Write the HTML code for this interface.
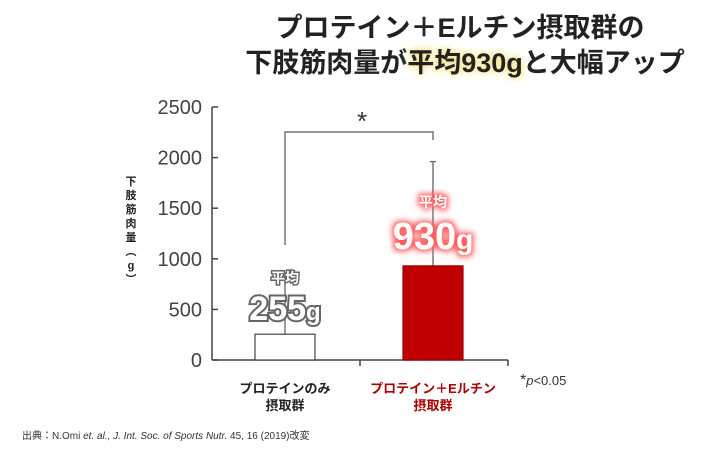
<!DOCTYPE html>
<html><head><meta charset="utf-8"><style>
body{margin:0;width:720px;height:450px;background:#fff;overflow:hidden;font-family:"Liberation Sans","Noto Sans CJK JP",sans-serif;}
.t{position:absolute;left:0;width:930px;text-align:center;font-weight:bold;font-size:27px;color:#222;white-space:nowrap;}
.hl{text-shadow:0 0 6px #f5e27a,0 0 10px #f8e99a;}
</style></head><body>
<div class="t" style="top:6px;left:-5px;">プロテイン＋Eルチン摂取群の</div>
<div class="t" style="top:41px;">下肢筋肉量が<span class="hl">平均930g</span>と大幅アップ</div>
<svg id="chart" width="720" height="450" style="position:absolute;left:0;top:0">
<defs>
<filter id="rg" x="-30%" y="-30%" width="160%" height="160%"><feMorphology operator="dilate" radius="2" in="SourceAlpha" result="d"/><feGaussianBlur in="d" stdDeviation="3" result="b"/><feFlood flood-color="#ff5a5a"/><feComposite in2="b" operator="in" result="g"/><feMerge><feMergeNode in="g"/><feMergeNode in="SourceGraphic"/></feMerge></filter>
</defs>
</svg>
<div style="position:absolute;left:124px;top:175px;width:14px;font-size:11px;font-weight:bold;line-height:14px;text-align:center;color:#222;">下<br>肢<br>筋<br>肉<br>量<br>︵<br>g<br>︶</div>
<div style="position:absolute;left:22px;top:427px;font-size:10px;color:#333;">出典：N.Omi <i>et. al., J. Int. Soc. of Sports Nutr.</i> 45, 16 (2019)改変</div>
<script>
const categories=["プロテインのみ|摂取群","プロテイン＋Eルチン|摂取群"];
const means=[255,930];
const errTops=[820,1960];
const yTicks=[0,500,1000,1500,2000,2500];
const valueLabels=["255g","930g"];
const NS="http://www.w3.org/2000/svg";
const svg=document.getElementById('chart');
const x0=212,xEnd=508,y0=360,yTop=107,maxV=2500;
const centers=[285,433],bw=60;
function y(v){return y0-(v/maxV)*(y0-yTop);}
function mk(tag,attrs,parent){const e=document.createElementNS(NS,tag);for(const k in attrs)e.setAttribute(k,attrs[k]);(parent||svg).appendChild(e);return e;}
let e;
e=mk('line',{x1:x0,y1:y(0),x2:x0,y2:y(maxV),stroke:'#444','stroke-width':1.5});


e=mk('line',{x1:x0,y1:y0,x2:xEnd,y2:y0,stroke:'#444','stroke-width':1.5});


[360,xEnd].forEach(function(tx){mk('line',{x1:tx,y1:y0,x2:tx,y2:y0+6,stroke:'#444','stroke-width':1.5});});
yTicks.forEach(function(v){
  mk('line',{x1:x0,y1:y(v),x2:x0+6,y2:y(v),stroke:'#444','stroke-width':1.5});
  const t=mk('text',{x:x0-10,y:y(v)+7,'text-anchor':'end','font-size':20,fill:'#444'});
  t.textContent=v;
  
  
});
means.forEach(function(m,i){
  const cx=centers[i];
  const l=mk('line',{x1:cx,y1:y(errTops[i]),x2:cx,y2:y(m),stroke:'#777','stroke-width':1.5});
  
  
  mk('line',{x1:cx-3,y1:y(errTops[i]),x2:cx+3,y2:y(errTops[i]),stroke:'#777','stroke-width':1.5});
  const r=mk('rect',{x:cx-bw/2,y:y(m),width:bw,height:y0-y(m),fill:i?'#c00000':'#fff',stroke:i?'#a00000':'#444','stroke-width':1.2});
  
  
  const parts=categories[i].split('|');
  parts.forEach(function(p,j){
    const t=mk('text',{x:cx,y:393+j*17,'text-anchor':'middle','font-size':13,'font-weight':'bold',fill:i?'#b00000':'#222'});
    t.textContent=p;
    
    
  });
});
let t=mk('text',{x:centers[0],y:283,'text-anchor':'middle','font-size':14,'font-weight':'bold',fill:'#fff',stroke:'#666','stroke-width':3,'paint-order':'stroke'});
t.textContent='平均';


t=mk('text',{x:centers[0],y:320,'text-anchor':'middle','font-size':34,'font-weight':'bold',fill:'#fff',stroke:'#666','stroke-width':4,'paint-order':'stroke'});
t.innerHTML=valueLabels[0].slice(0,-1)+'<tspan font-size="24">g</tspan>';


t=mk('text',{x:centers[1],y:207,'text-anchor':'middle','font-size':14,'font-weight':'bold',fill:'#fff',filter:'url(#rg)'});
t.textContent='平均';


t=mk('text',{x:centers[1],y:249,'text-anchor':'middle','font-size':38,'font-weight':'bold',fill:'#fff',filter:'url(#rg)'});
t.innerHTML=valueLabels[1].slice(0,-1)+'<tspan font-size="28">g</tspan>';


const p=mk('path',{d:'M'+centers[0]+' 245 V132 H'+centers[1]+' V140',fill:'none',stroke:'#777','stroke-width':1.5});


t=mk('text',{x:362,y:130,'text-anchor':'middle','font-size':26,fill:'#333'});
t.textContent='*';


t=mk('text',{x:520,y:385,'font-size':13,fill:'#333'});
t.innerHTML='<tspan font-size="16">*</tspan><tspan font-style="italic">p</tspan>&lt;0.05';


</script>
</body></html>
